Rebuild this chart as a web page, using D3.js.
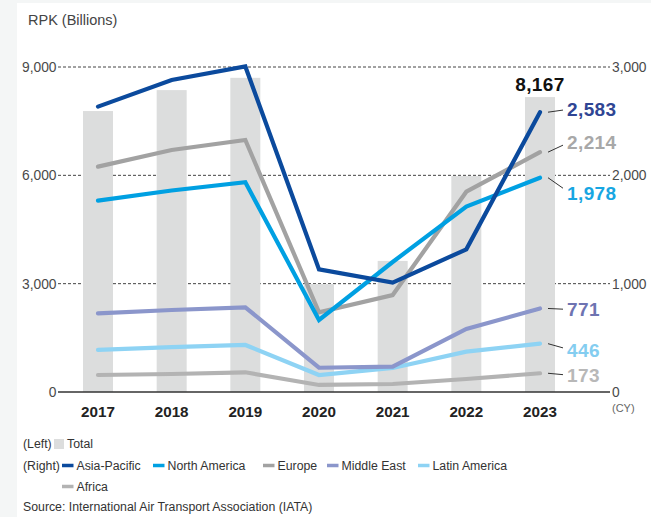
<!DOCTYPE html>
<html>
<head>
<meta charset="utf-8">
<script src="https://cdn.jsdelivr.net/npm/d3@7/dist/d3.min.js"></script>
<style>
  html, body { margin: 0; padding: 0; background: #f4f6f6; }
  svg { display: block; font-family: "Liberation Sans", Arial, Helvetica, sans-serif; }
</style>
</head>
<body>
<svg id="chart" width="651" height="517"></svg>
<script>
// Revenue passenger kilometres, billions
const years = ["2017", "2018", "2019", "2020", "2021", "2022", "2023"];
const total = [7780, 8360, 8700, 2990, 3630, 5980, 8167];
const asiaPacific = [2634, 2880, 3005, 1132, 1010, 1317, 2583];
const northAmerica = [1766, 1860, 1936, 665, 1200, 1711, 1978];
const europe = [2080, 2234, 2326, 735, 895, 1849, 2214];
const middleEast = [726, 757, 782, 224, 234, 582, 771];
const latinAmerica = [388, 415, 434, 157, 222, 372, 446];
const africa = [157, 166, 182, 65, 74, 120, 173];
const leftTicks = [0, 3000, 6000, 9000];
const rightTicks = [0, 1000, 2000, 3000];

const regions = [
  { name: "Africa", values: africa, color: "#b3b3b3", label: "#b8b8b8" },
  { name: "Latin America", values: latinAmerica, color: "#8ed3f4", label: "#84cdf0" },
  { name: "Middle East", values: middleEast, color: "#8b96cb", label: "#6e73b1" },
  { name: "Europe", values: europe, color: "#a2a2a2", label: "#a8a8a8" },
  { name: "North America", values: northAmerica, color: "#00a0e2", label: "#17a6e2" },
  { name: "Asia-Pacific", values: asiaPacific, color: "#0b4a9d", label: "#2f4594" }
];

const svg = d3.select("#chart");
const plotLeft = 58, plotRight = 610, plotTop = 67, plotBase = 392;

svg.append("rect").attr("x", 17).attr("y", 3).attr("width", 634).attr("height", 514).attr("fill", "#fff");

const x = d3.scalePoint().domain(years).range([98, 540]);
const yL = d3.scaleLinear().domain([0, 9000]).range([plotBase, plotTop]);
const yR = d3.scaleLinear().domain([0, 3000]).range([plotBase, plotTop]);
const fmt = d3.format(",");

// dashed grid
svg.append("g").selectAll("line").data(leftTicks.filter(d => d > 0)).join("line")
  .attr("x1", plotLeft).attr("x2", plotRight)
  .attr("y1", d => yL(d)).attr("y2", d => yL(d))
  .attr("stroke", "#444").attr("stroke-width", 1).attr("stroke-dasharray", "3,2");

// left axis labels
const leftAxis = d3.axisLeft(yL).tickValues(leftTicks).tickFormat(fmt).tickSize(0).tickPadding(1.5);
svg.append("g").attr("transform", `translate(${plotLeft},0)`).call(leftAxis)
  .call(g => g.select(".domain").remove())
  .call(g => g.selectAll("text").attr("fill", "#4a4a4a").attr("font-size", 13.8))
  .attr("font-family", null).attr("font-size", null);

// right axis labels
const rightAxis = d3.axisRight(yR).tickValues(rightTicks).tickFormat(fmt).tickSize(0).tickPadding(2);
svg.append("g").attr("transform", `translate(${plotRight},0)`).call(rightAxis)
  .call(g => g.select(".domain").remove())
  .call(g => g.selectAll("text").attr("fill", "#4a4a4a").attr("font-size", 13.8))
  .attr("font-family", null).attr("font-size", null);

// total bars (left axis)
const barW = 30;
svg.append("g").selectAll("rect").data(years).join("rect")
  .attr("x", d => x(d) - barW / 2).attr("width", barW)
  .attr("y", (d, i) => yL(total[i])).attr("height", (d, i) => plotBase - yL(total[i]))
  .attr("fill", "#dcdddd");

// baseline
svg.append("line").attr("x1", plotLeft).attr("x2", plotRight).attr("y1", plotBase).attr("y2", plotBase)
  .attr("stroke", "#333").attr("stroke-width", 1.5);

// regional lines (right axis)
const line = d3.line().x((d, i) => x(years[i])).y(d => yR(d));
svg.append("g").selectAll("path").data(regions).join("path")
  .attr("d", r => line(r.values))
  .attr("fill", "none").attr("stroke", r => r.color).attr("stroke-width", 4.2)
  .attr("stroke-linejoin", "miter").attr("stroke-linecap", "round");

// year labels
svg.append("g").selectAll("text").data(years).join("text")
  .attr("x", d => x(d)).attr("y", 417).attr("text-anchor", "middle")
  .attr("font-size", 15.2).attr("font-weight", "bold").attr("fill", "#222").text(d => d);

svg.append("text").attr("x", 612).attr("y", 412).attr("font-size", 11).attr("fill", "#666").text("(CY)");

// total value label for the last year
const last = years.length - 1;
svg.append("text").attr("x", x(years[last])).attr("y", yL(total[last]) - 6)
  .attr("text-anchor", "middle").attr("font-size", 19).attr("font-weight", "bold")
  .attr("letter-spacing", 0.4).attr("fill", "#111")
  .text(fmt(total[last]));

// end labels with leader lines, label offsets keep them apart
const labelDy = { "Asia-Pacific": -3, "Europe": -10, "North America": 15, "Middle East": 1, "Latin America": 6, "Africa": 2 };
const endX = x(years[last]);
const labels = svg.append("g");
regions.forEach(r => {
  const v = r.values[last];
  const py = yR(v);
  const ly = py + labelDy[r.name];
  labels.append("line").attr("x1", endX + 8).attr("y1", py).attr("x2", endX + 23).attr("y2", py + labelDy[r.name] * 0.7)
    .attr("stroke", "#333").attr("stroke-width", 1);
  labels.append("text").attr("x", endX + 27).attr("y", ly).attr("dy", "0.36em")
    .attr("font-size", 19).attr("font-weight", "bold").attr("letter-spacing", 0.4)
    .attr("fill", r.label).text(fmt(v));
});

// title
svg.append("text").attr("x", 28).attr("y", 25).attr("font-size", 14.5).attr("fill", "#444").text("RPK (Billions)");

// legend
const lg = svg.append("g").attr("font-size", 12.3).attr("fill", "#333");
lg.append("text").attr("x", 23).attr("y", 444).attr("dy", "0.35em").text("(Left)");
lg.append("rect").attr("x", 54).attr("y", 439).attr("width", 10).attr("height", 10).attr("fill", "#dcdddd");
lg.append("text").attr("x", 67).attr("y", 444).attr("dy", "0.35em").text("Total");
lg.append("text").attr("x", 23).attr("y", 465.5).attr("dy", "0.35em").text("(Right)");

const legendOrder = ["Asia-Pacific", "North America", "Europe", "Middle East", "Latin America", "Africa"];
const legendPos = [[62, 465.5], [153, 465.5], [263, 465.5], [327, 465.5], [418, 465.5], [62, 486.5]];
legendOrder.forEach((name, i) => {
  const r = regions.find(d => d.name === name);
  const [lx, ly] = legendPos[i];
  lg.append("line").attr("x1", lx).attr("x2", lx + 11.5).attr("y1", ly).attr("y2", ly)
    .attr("stroke", r.color).attr("stroke-width", 3.5);
  lg.append("text").attr("x", lx + 14.5).attr("y", ly).attr("dy", "0.35em").text(name);
});
lg.append("text").attr("x", 23).attr("y", 507).attr("dy", "0.35em")
  .text("Source: International Air Transport Association (IATA)");
</script>
</body>
</html>
